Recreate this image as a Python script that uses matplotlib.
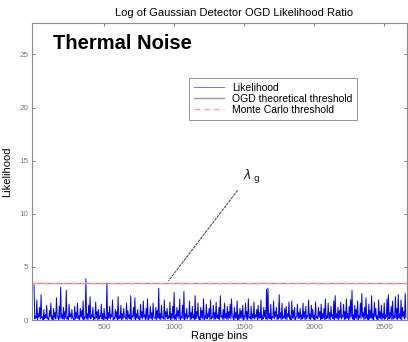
import numpy as np
import matplotlib
matplotlib.use("Agg")
import matplotlib.pyplot as plt

plt.rcParams['font.family'] = ['Liberation Sans', 'DejaVu Sans']

# ----------------------------
# Data
# local maxima, one every 10 range bins
# ----------------------------
bin_step = 10
likelihood_peaks = [
    3.3, 0.4, 1.9, 0.6, 1.2, 2.4, 0.3, 1.0, 0.5, 1.4,
    0.2, 0.9, 1.6, 0.4, 1.1, 0.7, 2.1, 0.3, 1.3, 3.1,
    0.5, 1.2, 0.8, 2.8, 0.3, 1.5, 0.6, 1.0, 0.2, 1.3,
    0.7, 1.6, 0.4, 1.1, 0.9, 1.8, 0.3, 3.9, 0.6, 1.4,
    2.2, 0.5, 1.2, 0.3, 1.7, 0.8, 1.0, 0.4, 1.5, 0.6,
    1.1, 0.3, 3.5, 0.7, 1.3, 0.5, 1.9, 0.2, 1.0, 0.8,
    2.2, 0.4, 1.4, 0.6, 1.1, 0.3, 1.6, 0.9, 0.5, 2.3,
    0.4, 1.2, 2.1, 0.6, 1.0, 0.3, 1.5, 0.8, 1.8, 0.5,
    1.1, 2.0, 0.4, 1.3, 0.7, 1.6, 0.2, 1.2, 0.9, 3.0,
    0.6, 1.4, 0.3, 1.9, 0.8, 1.1, 0.4, 1.7, 0.6, 1.3,
    2.6, 0.5, 1.2, 0.9, 2.0, 0.3, 1.4, 2.7, 0.6, 1.1,
    0.4, 1.8, 0.7, 1.3, 0.5, 2.3, 0.8, 1.6, 0.3, 1.2,
    0.9, 2.0, 0.4, 1.5, 0.6, 1.1, 1.9, 0.3, 1.4, 0.7,
    1.7, 0.5, 1.2, 2.3, 0.4, 1.0, 1.6, 0.6, 1.3, 0.8,
    1.5, 2.0, 0.3, 1.2, 0.7, 1.8, 0.5, 1.1, 0.9, 1.4,
    0.4, 1.6, 0.8, 2.0, 0.3, 1.3, 0.6, 1.7, 0.5, 1.0,
    1.4, 0.7, 1.9, 0.4, 1.2, 0.9, 2.9, 3.0, 0.6, 1.5,
    0.3, 1.8, 0.8, 1.2, 0.5, 2.4, 0.7, 1.6, 0.4, 1.1,
    1.3, 0.6, 1.7, 0.4, 1.8, 0.9, 1.2, 0.3, 1.5, 0.7,
    1.1, 0.5, 1.6, 0.8, 1.3, 0.4, 1.9, 0.6, 1.4, 1.0,
    0.5, 1.7, 0.3, 1.2, 0.8, 1.5, 0.6, 1.1, 2.0, 0.4,
    1.6, 0.7, 1.3, 0.5, 1.8, 2.3, 0.6, 1.2, 0.9, 1.7,
    0.4, 1.5, 0.8, 2.0, 0.6, 1.3, 1.9, 2.8, 0.5, 1.4,
    1.0, 1.8, 0.4, 1.6, 2.5, 0.7, 1.2, 2.1, 0.5, 1.5,
    0.9, 2.3, 0.6, 1.7, 1.1, 0.4, 1.9, 0.8, 1.4, 0.6,
    1.6, 0.5, 2.0, 2.4, 0.7, 1.3, 1.8, 0.4, 2.2, 1.1,
    2.4, 0.6, 1.9, 1.2, 0.8, 2.5,
]
# local minima, half way between the maxima
likelihood_troughs = [
    0.1, 0.2, 0.0, 0.3, 0.1, 0.2, 0.0, 0.1, 0.2, 0.1,
    0.0, 0.3, 0.1, 0.0, 0.2, 0.1, 0.3, 0.0, 0.1, 0.2,
    0.1, 0.0, 0.2, 0.1, 0.0, 0.3, 0.1, 0.2, 0.0, 0.1,
    0.2, 0.1, 0.0, 0.3, 0.1, 0.0, 0.2, 0.1, 0.0, 0.2,
    0.1, 0.3, 0.0, 0.1, 0.2, 0.0, 0.1, 0.3, 0.1, 0.0,
    0.2, 0.1, 0.0, 0.2, 0.1, 0.3, 0.0, 0.1, 0.2, 0.0,
    0.1, 0.2, 0.0, 0.1, 0.3, 0.1, 0.0, 0.2, 0.1, 0.0,
    0.3, 0.1, 0.0, 0.2, 0.1, 0.0, 0.2, 0.1, 0.3, 0.0,
    0.1, 0.0, 0.2, 0.1, 0.0, 0.3, 0.1, 0.0, 0.2, 0.1,
    0.0, 0.2, 0.1, 0.0, 0.3, 0.1, 0.2, 0.0, 0.1, 0.2,
    0.1, 0.0, 0.3, 0.1, 0.0, 0.2, 0.1, 0.0, 0.2, 0.1,
    0.3, 0.0, 0.1, 0.2, 0.0, 0.1, 0.3, 0.1, 0.0, 0.2,
    0.1, 0.0, 0.2, 0.1, 0.3, 0.0, 0.1, 0.2, 0.0, 0.1,
    0.2, 0.1, 0.0, 0.3, 0.1, 0.0, 0.2, 0.1, 0.0, 0.2,
    0.1, 0.3, 0.0, 0.1, 0.2, 0.0, 0.1, 0.2, 0.1, 0.0,
    0.3, 0.1, 0.0, 0.2, 0.1, 0.0, 0.2, 0.1, 0.3, 0.0,
    0.1, 0.2, 0.0, 0.1, 0.3, 0.1, 0.0, 0.2, 0.1, 0.0,
    0.2, 0.1, 0.3, 0.0, 0.1, 0.2, 0.0, 0.1, 0.2, 0.1,
    0.0, 0.3, 0.1, 0.0, 0.2, 0.1, 0.0, 0.3, 0.1, 0.2,
    0.0, 0.1, 0.2, 0.0, 0.1, 0.3, 0.1, 0.0, 0.2, 0.1,
    0.0, 0.2, 0.1, 0.3, 0.0, 0.1, 0.2, 0.0, 0.1, 0.2,
    0.1, 0.0, 0.3, 0.1, 0.0, 0.2, 0.1, 0.0, 0.2, 0.1,
    0.3, 0.0, 0.1, 0.2, 0.0, 0.1, 0.3, 0.1, 0.0, 0.2,
    0.1, 0.0, 0.2, 0.1, 0.3, 0.0, 0.1, 0.2, 0.0, 0.1,
    0.2, 0.1, 0.0, 0.3, 0.1, 0.0, 0.2, 0.1, 0.0, 0.2,
    0.1, 0.3, 0.0, 0.1, 0.2, 0.0, 0.1, 0.2, 0.1, 0.0,
    0.2, 0.1, 0.0, 0.3, 0.1, 0.2,
]
ogd_threshold = 3.5
monte_carlo_threshold = 3.5
x_ticks = [500, 1000, 1500, 2000, 2500]
y_ticks = [0, 5, 10, 15, 20, 25]

# ----------------------------
# Plot
# ----------------------------
n = len(likelihood_peaks)
bins = np.empty(2 * n)
bins[0::2] = 1 + bin_step * np.arange(n)
bins[1::2] = 1 + bin_step * np.arange(n) + bin_step / 2
likelihood = np.empty(2 * n)
likelihood[0::2] = likelihood_peaks
likelihood[1::2] = likelihood_troughs

fig = plt.figure(figsize=(4.08, 3.42), dpi=100)
ax = fig.add_axes([0.078, 0.064, 0.92, 0.87])

ax.plot(bins, likelihood, color='blue', lw=0.7, label='Likelihood')
ax.axhline(ogd_threshold, color='0.6', lw=1.0, label='OGD theoretical threshold')
ax.axhline(monte_carlo_threshold, color='#f4a0a0', lw=1.0, ls=(0, (4, 3)),
           label='Monte Carlo threshold')

ax.set_xlim(-15, 2665)
ax.set_ylim(0, 28)
ax.set_xticks(x_ticks)
ax.set_yticks(y_ticks)
ax.tick_params(direction='in', length=2.5, labelsize=5.8, labelcolor='0.45',
               color='0.5', top=True, right=True, pad=2.5)
for sp in ax.spines.values():
    sp.set_color('0.55')

ax.set_xlabel('Range bins', fontsize=8, labelpad=0)
ax.set_ylabel('Likelihood', fontsize=8, labelpad=5)
fig.text(0.574, 0.963, 'Log of Gaussian Detector OGD Likelihood Ratio',
         fontsize=8, ha='center', va='center')

ax.text(0.056, 0.93, 'Thermal Noise', transform=ax.transAxes,
        fontsize=14.5, fontweight='bold', va='center')
ax.text(0.563, 0.48, r'$\lambda_{\ \mathrm{g}}$', transform=ax.transAxes,
        fontsize=9, va='center', color='0.1')
ax.annotate('', xy=(950, ogd_threshold), xytext=(1465, 12.4),
            arrowprops=dict(arrowstyle='-', ls=(0, (2, 1.5)), color='0.3', lw=0.8))

leg = ax.legend(loc='upper left', bbox_to_anchor=(0.405, 0.83), fontsize=7.5,
                fancybox=False, edgecolor='0.5', framealpha=1, borderpad=0.45,
                handlelength=2.9, handletextpad=0.8, labelspacing=0.1)
leg.get_frame().set_linewidth(0.6)
leg.get_lines()[0].set_color('#7070ff')

fig.savefig('out.png', dpi=100)
